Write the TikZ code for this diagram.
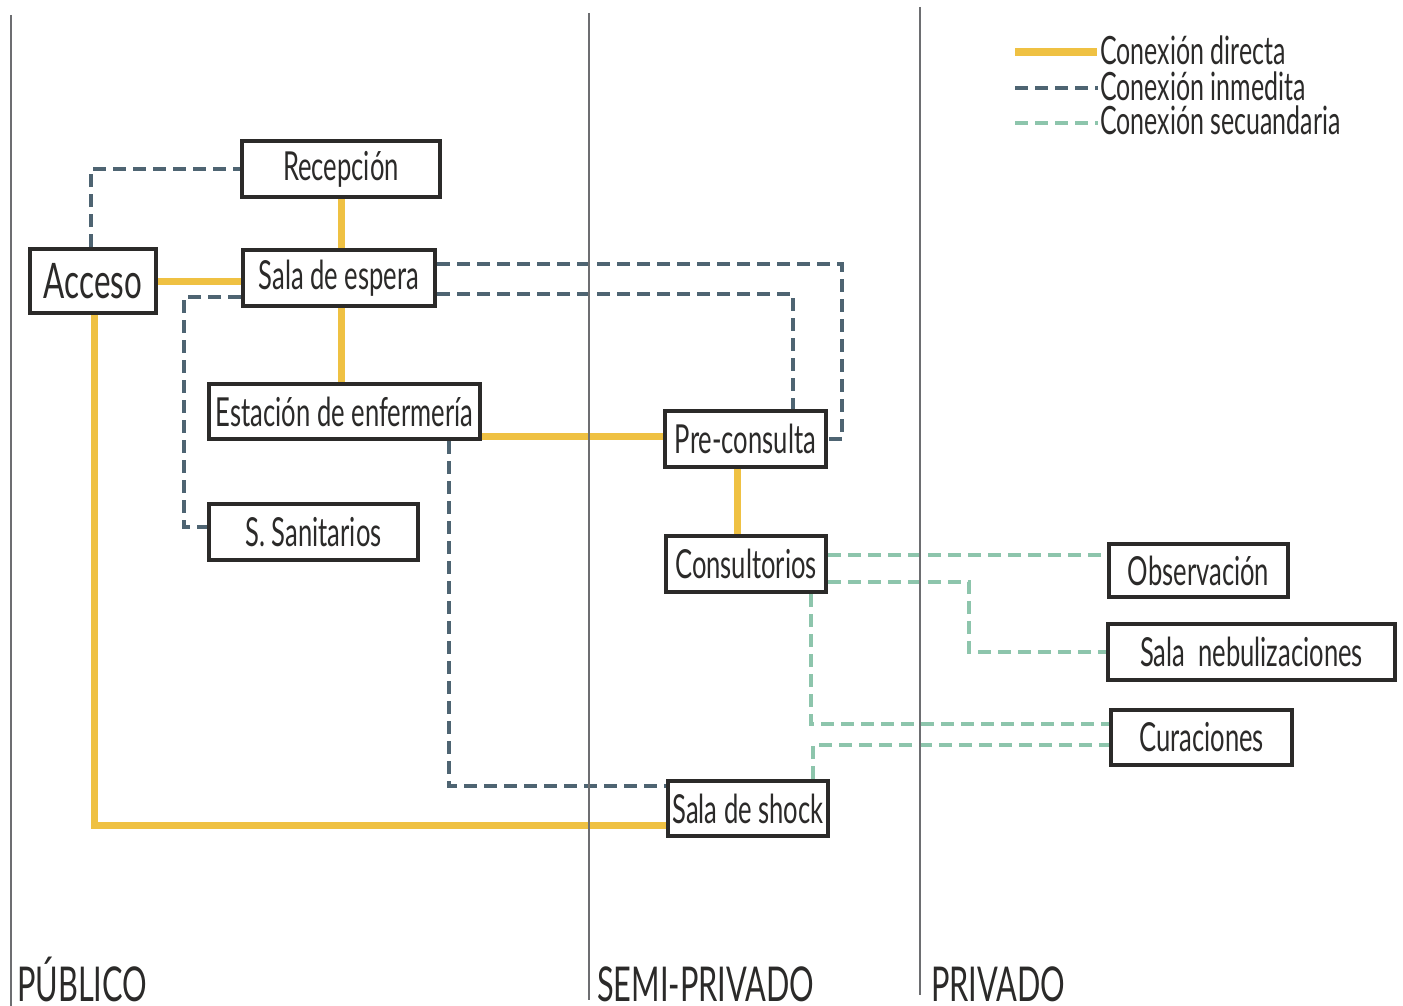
\documentclass[tikz,border=0pt]{standalone}
\usepackage{fontspec}
\setmainfont{Lato}[FakeStretch=0.64]
\usetikzlibrary{backgrounds}
\definecolor{yel}{HTML}{EFC143}
\definecolor{dk}{HTML}{4E6472}
\definecolor{gr}{HTML}{8DC5AC}
\definecolor{zone}{HTML}{6D6E71}
\definecolor{txt}{HTML}{2B2A29}
\begin{document}
\begin{tikzpicture}[x=1pt,y=-1pt,
  room/.style={draw=txt, line width=3.6pt, fill=white, inner sep=0pt, text=txt,
    font=\fontsize{40}{40}\selectfont},
  directo/.style={yel, line width=7pt},
  inmed/.style={dk, line width=3.6pt, dash pattern=on 13pt off 7pt},
  secund/.style={gr, line width=3.6pt, dash pattern=on 13pt off 7pt},
  zoneline/.style={zone, line width=1.8pt},
  zonelabel/.style={anchor=base west, inner sep=0pt, text=txt, font=\fontsize{48}{48}\selectfont},
  legtext/.style={anchor=base west, inner sep=0pt, text=txt, font=\fontsize{39}{39}\selectfont}]
\useasboundingbox (0,0) rectangle (1403,1006);

% rooms
\node[room, minimum width=198.4pt, minimum height=56.4pt] (rec) at (341,169) {Recepción};
\node[room, minimum width=126.4pt, minimum height=64.4pt, font=\fontsize{49}{49}\selectfont] (acc) at (93,281) {Acceso};
\node[room, minimum width=192.4pt, minimum height=56.4pt] (sala) at (339,278) {Sala de espera};
\node[room, minimum width=271.4pt, minimum height=55.4pt] (est) at (344.5,411.5) {Estación de enfermería};
\node[room, minimum width=161.4pt, minimum height=56.4pt] (pre) at (745.5,439) {Pre-consulta};
\node[room, minimum width=209.4pt, minimum height=56.4pt] (san) at (313.5,532) {S. Sanitarios};
\node[room, minimum width=160.4pt, minimum height=56.4pt] (con) at (746,564) {Consultorios};
\node[room, minimum width=179.4pt, minimum height=53.4pt] (obs) at (1198.5,570.5) {Observación};
\node[room, minimum width=287.4pt, minimum height=56.4pt] (neb) at (1251.5,652) {Sala~~nebulizaciones};
\node[room, minimum width=181.4pt, minimum height=55.4pt] (cur) at (1201.5,737.5) {Curaciones};
\node[room, minimum width=160.4pt, minimum height=55.4pt] (shk) at (748,808.5) {Sala de shock};

% zone labels
\node[zonelabel] (zpub) at (17,1001) {PÚBLICO};
\node[zonelabel] (zsemi) at (597,1001) {SEMI-PRIVADO};
\node[zonelabel] (zpriv) at (931,1001) {PRIVADO};

% legend
\node[legtext] (l1) at (1100,65) {Conexión directa};
\node[legtext] (l2) at (1100,101) {Conexión inmedita};
\node[legtext] (l3) at (1100,135) {Conexión secuandaria};
\coordinate (lg1) at (1015,52);
\coordinate (lg2) at (1015,88);
\coordinate (lg3) at (1015,123);

\begin{scope}[on background layer]
% directa
\draw[directo] (rec.south) -- (rec.south |- sala.north);
\draw[directo] (acc.east) -- (acc.east -| sala.west);
\draw[directo] (rec.south |- sala.south) -- (rec.south |- est.north);
\draw[directo] ([yshift=3pt]pre.west) -- ([yshift=3pt]pre.west -| est.east);
\draw[directo] ([xshift=-8.5pt]pre.south) -- ([xshift=-8.5pt]pre.south |- con.north);
\draw[directo] ([xshift=1pt]acc.south) |- ([yshift=-16.5pt]shk.west);
% inmedita
\draw[inmed] ([xshift=-2pt]acc.north) |- (rec.west);
\draw[inmed] ([yshift=-19pt]sala.west) -| ([xshift=-22.8pt,yshift=5pt]san.west) -- ([yshift=5pt]san.west);
\draw[inmed] ([yshift=14pt]sala.east) -| ([xshift=14pt]pre.east) -- (pre.east);
\draw[inmed] ([yshift=-16pt]sala.east) -| ([xshift=47.5pt]pre.north);
\draw[inmed] ([xshift=104.5pt]est.south) |- ([yshift=22.5pt]shk.west);
% secundaria
\draw[secund] ([yshift=9pt]con.east) -- ([yshift=9pt]con.east -| obs.west);
\draw[secund] ([yshift=-18pt]con.east) -| ([xshift=-136.8pt]neb.west) -- (neb.west);
\draw[secund] ([xshift=65pt]con.south) |- ([yshift=13.5pt]cur.west);
\draw[secund] ([xshift=65pt]shk.north) |- ([yshift=-7.5pt]cur.west);
% zone lines
\draw[zoneline] (11,15) -- (11,1006);
\draw[zoneline] (589,13) -- (589,1000);
\draw[zoneline] (920,7) -- (920,995);
\end{scope}

% legend samples
\draw[yel, line width=8pt] (lg1) -- ++(82,0);
\draw[inmed] (lg2) -- ++(83,0);
\draw[secund] (lg3) -- ++(83,0);
\end{tikzpicture}
\end{document}
